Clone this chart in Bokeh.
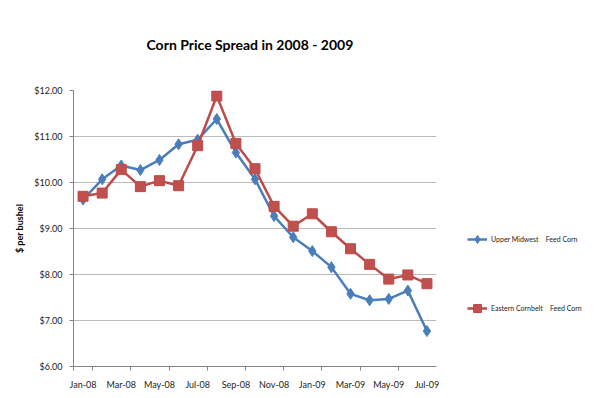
from bokeh.plotting import figure
from bokeh.models import (Range1d, FixedTicker, NumeralTickFormatter, Title, Legend, LegendItem)
from bokeh.embed import file_html
from bokeh.resources import INLINE

months = ["Jan-08", "Feb-08", "Mar-08", "Apr-08", "May-08", "Jun-08", "Jul-08", "Aug-08",
          "Sep-08", "Oct-08", "Nov-08", "Dec-08", "Jan-09", "Feb-09", "Mar-09", "Apr-09",
          "May-09", "Jun-09", "Jul-09"]
upper_midwest = [9.63, 10.07, 10.37, 10.27, 10.49, 10.83, 10.93, 11.38, 10.65, 10.07, 9.27,
                 8.81, 8.51, 8.16, 7.58, 7.44, 7.47, 7.65, 6.77]
eastern_cornbelt = [9.70, 9.77, 10.28, 9.91, 10.04, 9.93, 10.80, 11.88, 10.85, 10.30, 9.48,
                    9.05, 9.32, 8.93, 8.56, 8.22, 7.90, 7.99, 7.80]
y_ticks = [6, 7, 8, 9, 10, 11, 12]
title_text = "Corn Price Spread in 2008 - 2009"
y_label = "$ per bushel"
series_names = ["Upper Midwest    Feed Corn", "Eastern Cornbelt    Feed Corn"]

FONT = "Lato"
xs = list(range(len(months)))

p = figure(frame_width=363, frame_height=276, output_backend="svg", toolbar_location=None,
           x_range=Range1d(-0.5, len(months) - 0.5), y_range=Range1d(6, 12),
           min_border_left=73, min_border_right=0, min_border_top=90, min_border_bottom=32)
p.outline_line_color = None
p.background_fill_color = "white"
p.border_fill_color = "white"

p.title = Title(text=title_text, align="left", offset=73, vertical_align="top", text_font=FONT,
                text_font_size="14px", text_font_style="bold", text_color="#000000",
                standoff=71)

# axes
p.xaxis.ticker = FixedTicker(ticks=xs[::2], minor_ticks=[x - 0.5 for x in xs[1::2]] + [-0.5])
p.xaxis.major_label_overrides = {i: months[i] for i in xs[::2]}
p.xaxis.major_tick_out = 0
p.xaxis.major_tick_in = 0
p.xaxis.minor_tick_out = 4
p.xaxis.minor_tick_in = 0
p.xaxis.minor_tick_line_color = "#868686"
p.xaxis.axis_line_color = "#868686"
p.xaxis.major_label_standoff = 8
p.xaxis.major_label_text_font = FONT
p.xaxis.major_label_text_font_size = "9px"
p.xaxis.major_label_text_color = "#222222"

p.yaxis.ticker = FixedTicker(ticks=y_ticks)
p.yaxis.formatter = NumeralTickFormatter(format="$0.00")
p.yaxis.major_tick_out = 4
p.yaxis.major_tick_in = 0
p.yaxis.minor_tick_out = 0
p.yaxis.minor_tick_in = 0
p.yaxis.major_tick_line_color = "#868686"
p.yaxis.axis_line_color = "#868686"
p.yaxis.major_label_standoff = 7
p.yaxis.major_label_text_font = FONT
p.yaxis.major_label_text_font_size = "9px"
p.yaxis.major_label_text_color = "#222222"
p.yaxis.axis_label = y_label
p.yaxis.axis_label_text_font = FONT
p.yaxis.axis_label_text_font_size = "9px"
p.yaxis.axis_label_text_font_style = "bold"
p.yaxis.axis_label_text_color = "#000000"
p.yaxis.axis_label_standoff = 6

p.xgrid.grid_line_color = None
p.ygrid.grid_line_color = "#BBBBBB"
p.ygrid.grid_line_width = 1.2

blue = "#4A7EBB"
red = "#BE4B48"

l1 = p.line(xs, upper_midwest, line_color=blue, line_width=2.5)
m1 = p.scatter(xs, upper_midwest, marker="diamond", size=11, fill_color=blue, line_color=blue)
l2 = p.line(xs, eastern_cornbelt, line_color=red, line_width=2.5)
m2 = p.scatter(xs, eastern_cornbelt, marker="square", size=10, fill_color="#C0504D", line_color=red)

legend = Legend(items=[LegendItem(label=series_names[0], renderers=[l1, m1]),
                       LegendItem(label=series_names[1], renderers=[l2, m2])],
                location="bottom_left", orientation="vertical",
                glyph_width=20, glyph_height=54, label_height=54, spacing=15,
                padding=10, margin=21, label_standoff=4,
                label_text_font=FONT, label_text_font_size="7px", label_text_color="#222222",
                border_line_alpha=0, background_fill_alpha=0)
p.add_layout(legend, "right")

open("out.html", "w").write(file_html(p, INLINE))
